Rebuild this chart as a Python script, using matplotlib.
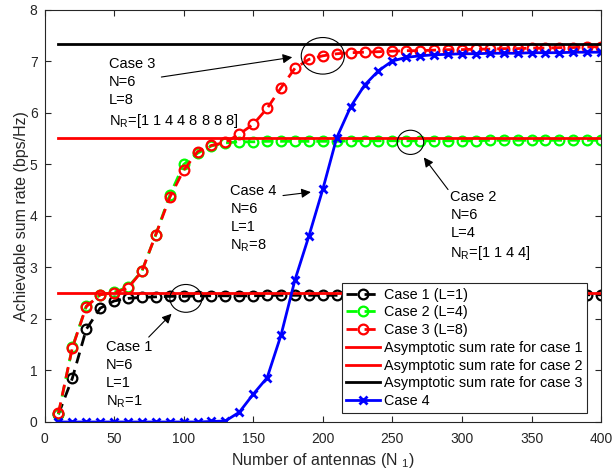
import matplotlib as mpl
mpl.use('Agg')
import matplotlib.pyplot as plt
from matplotlib.patches import Ellipse

plt.rcParams['font.family'] = ['Liberation Sans', 'DejaVu Sans']
plt.rcParams['mathtext.fontset'] = 'custom'
plt.rcParams['mathtext.rm'] = 'Liberation Sans'
plt.rcParams['mathtext.it'] = 'Liberation Sans:italic'

# number of antennas
n_ant = list(range(10, 410, 10))

case1 = [0.15, 0.85, 1.80, 2.21, 2.35, 2.40, 2.42, 2.43, 2.44, 2.44,
         2.45, 2.45, 2.45, 2.45, 2.45, 2.46, 2.46, 2.46, 2.46, 2.46,
         2.46, 2.46, 2.46, 2.46, 2.46, 2.47, 2.47, 2.47, 2.47, 2.47,
         2.47, 2.47, 2.47, 2.47, 2.47, 2.47, 2.47, 2.47, 2.47, 2.47]
case2 = [0.15, 1.45, 2.25, 2.47, 2.52, 2.62, 2.93, 3.64, 4.40, 5.00,
         5.22, 5.36, 5.42, 5.44, 5.44, 5.45, 5.45, 5.45, 5.45, 5.45,
         5.45, 5.46, 5.46, 5.46, 5.46, 5.46, 5.46, 5.46, 5.46, 5.46,
         5.46, 5.47, 5.47, 5.47, 5.47, 5.47, 5.47, 5.47, 5.47, 5.47]
case3 = [0.17, 1.44, 2.24, 2.47, 2.51, 2.60, 2.93, 3.64, 4.36, 4.89,
         5.25, 5.37, 5.43, 5.59, 5.78, 6.09, 6.49, 6.87, 7.04, 7.11,
         7.15, 7.17, 7.18, 7.19, 7.20, 7.21, 7.21, 7.22, 7.23, 7.23,
         7.24, 7.24, 7.25, 7.25, 7.26, 7.26, 7.27, 7.27, 7.28, 7.29]
case4 = [0.0, 0.0, 0.0, 0.0, 0.0, 0.0, 0.0, 0.0, 0.0, 0.0,
         0.0, 0.01, 0.02, 0.19, 0.54, 0.86, 1.69, 2.76, 3.61, 4.52,
         5.52, 6.12, 6.54, 6.82, 7.01, 7.08, 7.11, 7.13, 7.14, 7.15,
         7.15, 7.16, 7.16, 7.16, 7.17, 7.17, 7.17, 7.18, 7.18, 7.18]
asym1 = 2.5
asym2 = 5.51
asym3 = 7.33

fig = plt.figure(figsize=(6.14, 4.75), dpi=100)
ax = fig.add_axes([0.0725, 0.1116, 0.9065, 0.8674])

mk = dict(marker='o', markersize=7, markeredgewidth=1.6, markerfacecolor='none')
ax.plot(n_ant, case1, '--', color='k', lw=2, dashes=(4, 2.5), label='Case 1 (L=1)', **mk)
ax.plot(n_ant, case2, '--', color='#00ff00', lw=2, dashes=(4, 2.5), label='Case 2 (L=4)', **mk)
ax.plot(n_ant, case3, '--', color='r', lw=2, dashes=(4, 2.5), label='Case 3 (L=8)', **mk)
x0, x1 = n_ant[0], n_ant[-1]
ax.plot([x0, x1], [asym1, asym1], '-', color='r', lw=2, label='Asymptotic sum rate for case 1')
ax.plot([x0, x1], [asym2, asym2], '-', color='r', lw=2, label='Asymptotic sum rate for case 2')
ax.plot([x0, x1], [asym3, asym3], '-', color='k', lw=2, label='Asymptotic sum rate for case 3')
ax.plot(n_ant, case4, '-', color='#0000ff', lw=2, marker='x', markersize=6,
        markeredgewidth=2, label='Case 4')

ax.set_xlim(0, 400)
ax.set_ylim(0, 8)
ax.set_xticks(range(0, 401, 50))
ax.set_yticks(range(0, 9))
ax.tick_params(direction='in', top=True, right=True, labelsize=10, length=4,
               color='#262626', labelcolor='#262626')
ax.tick_params(axis='x', pad=7)
ax.tick_params(axis='y', pad=5)
for s in ax.spines.values():
    s.set_color('#262626')
    s.set_linewidth(0.8)
ax.set_xlabel('Number of antennas (N $_{1}$)', fontsize=11.5, color='#262626', labelpad=4)
ax.set_ylabel('Achievable sum rate (bps/Hz)', fontsize=11.5, color='#262626', labelpad=0.5)

leg = ax.legend(loc='lower right', bbox_to_anchor=(0.974, 0.023), fontsize=10.4,
                fancybox=False, framealpha=1, edgecolor='#262626', handlelength=2.3,
                labelspacing=0.26, borderpad=0.3, handletextpad=0.28, borderaxespad=0)
leg.get_frame().set_linewidth(0.8)

# ellipses around data
for cx, cy, w, h in [(200, 7.11, 31, 0.71), (263, 5.43, 19, 0.47), (101.6, 2.4, 23, 0.54)]:
    ax.add_patch(Ellipse((cx, cy), w, h, fill=False, edgecolor='k', lw=0.8, zorder=5))

fs = 10.5
arw = dict(arrowstyle='-|>', color='k', lw=0.8, mutation_scale=14)
ax.text(46, 7.08, 'Case 3\nN=6\nL=8\nN$_\\mathrm{R}$=[1 1 4 4 8 8 8 8]', fontsize=fs,
        va='top', ha='left', linespacing=1.35)
ax.annotate('', xy=(180, 7.09), xytext=(82, 6.69), arrowprops=arw)
ax.text(133.5, 4.62, 'Case 4\nN=6\nL=1\nN$_\\mathrm{R}$=8', fontsize=fs,
        va='top', ha='left', linespacing=1.35)
ax.annotate('', xy=(193.4, 4.47), xytext=(169.4, 4.39), arrowprops=arw)
ax.text(291.7, 4.5, 'Case 2\nN=6\nL=4\nN$_\\mathrm{R}$=[1 1 4 4]', fontsize=fs,
        va='top', ha='left', linespacing=1.35)
ax.annotate('', xy=(271.4, 5.18), xytext=(291.2, 4.47), arrowprops=arw)
ax.text(44, 1.59, 'Case 1\nN=6\nL=1\nN$_\\mathrm{R}$=1', fontsize=fs,
        va='top', ha='left', linespacing=1.35)
ax.annotate('', xy=(92.7, 2.14), xytext=(73.5, 1.61), arrowprops=arw)

fig.savefig('out.png', dpi=100)
